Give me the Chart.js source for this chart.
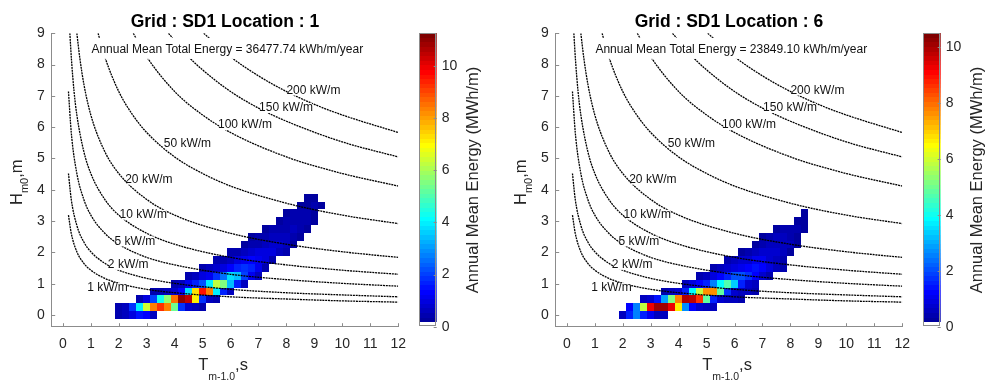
<!DOCTYPE html>
<html lang="en">
<head>
<meta charset="UTF-8">
<title>Annual Mean Energy - SD1 Locations 1 and 6</title>
<script src="https://cdn.jsdelivr.net/npm/chart.js"></script>
<style>
  body { margin: 0; background: #fff; overflow: hidden; }
  #wrap { position: relative; width: 988px; height: 380px; }
  canvas { position: absolute; top: 0; }
</style>
</head>
<body>
<div id="wrap">
  <canvas id="main1" width="415" height="380" style="left:0;width:415px;height:380px"></canvas>
  <canvas id="bar1" width="69" height="380" style="left:415px;width:69px;height:380px"></canvas>
  <canvas id="main6" width="415" height="380" style="left:504px;width:415px;height:380px"></canvas>
  <canvas id="bar6" width="69" height="380" style="left:919px;width:69px;height:380px"></canvas>
</div>

<script>
    var FONT = '"Liberation Sans", Arial, Helvetica, sans-serif';
    var AXIS = '#8c8c8c';
    var INK = '#262626';

    // tick labels
    var xTicks = [0, 1, 2, 3, 4, 5, 6, 7, 8, 9, 10, 11, 12];
    var yTicks = [0, 1, 2, 3, 4, 5, 6, 7, 8, 9];
    var cbTicks = [0, 2, 4, 6, 8, 10];

    // Hm0 bin centres (m), period bins are 0.25 s wide
    var hm0Rows = [0, 0.25, 0.5, 0.75, 1, 1.25, 1.5, 1.75, 2, 2.25, 2.5, 2.75, 3, 3.25, 3.5, 3.75];
    var binWidth = 0.25;

    // Location 1 : first Tm-1,0 bin of each Hm0 row, and energy per bin (MWh/m)
    var loc1Start = [2.0, 2.0, 2.75, 3.25, 4.0, 4.5, 5.0, 5.5, 6.0, 6.5, 6.75, 7.25, 7.75, 8.0, 8.5, 8.75];
    var loc1Energy = [
        [0.4, 0.6, 1.0, 1.5, 1.3, 0.7],
        [0.4, 0.7, 1.8, 4.0, 6.4, 8.3, 9.2, 8.4, 5.3, 1.9, 0.8, 0.6, 0.5],
        [0.5, 0.9, 2.0, 4.3, 5.8, 8.5, 10.9, 10.4, 7.2, 1.8, 0.7, 0.5],
        [0.4, 0.5, 0.6, 0.8, 1.3, 3.8, 7.3, 9.6, 8.4, 4.0, 1.6, 0.6],
        [0.5, 0.7, 1.2, 1.6, 2.2, 4.0, 6.2, 5.6, 3.5, 1.6, 0.6],
        [0.5, 0.6, 0.9, 1.2, 1.8, 2.5, 3.8, 3.5, 2.0, 1.2, 0.6],
        [0.5, 0.6, 0.8, 1.0, 1.3, 1.6, 1.9, 1.7, 1.1, 0.5],
        [0.4, 0.5, 0.7, 0.9, 1.1, 1.3, 1.2, 0.9, 0.5],
        [0.4, 0.5, 0.6, 0.8, 1.0, 1.0, 0.9, 0.7, 0.4],
        [0.3, 0.4, 0.5, 0.7, 0.8, 0.8, 0.6, 0.3],
        [0.3, 0.4, 0.5, 0.6, 0.7, 0.6, 0.5, 0.3],
        [0.3, 0.4, 0.5, 0.5, 0.6, 0.5, 0.3],
        [0.3, 0.4, 0.5, 0.5, 0.4, 0.3],
        [0.3, 0.4, 0.4, 0.4, 0.3],
        [0.3, 0.3, 0.4, 0.25],
        [0.25, 0.3]
    ];
    var loc1Max = 11.25;
    var loc1Total = '36477.74';

    // Location 6
    var loc6Start = [2.0, 2.25, 2.75, 3.5, 4.25, 4.75, 5.25, 5.75, 6.25, 6.75, 7.0, 7.5, 8.25, 8.5];
    var loc6Energy = [
        [0.5, 1.5, 2.6, 1.6, 1.0, 0.6, 0.5],
        [1.2, 2.6, 5.8, 9.2, 10.1, 10.0, 9.2, 6.6, 2.7, 1.3, 0.7, 0.6, 0.5],
        [0.5, 0.7, 1.4, 2.8, 5.2, 7.8, 9.9, 9.7, 8.6, 4.8, 1.6, 0.8, 0.6, 0.5, 0.4],
        [0.4, 0.5, 0.7, 1.5, 3.8, 5.8, 7.6, 7.6, 4.8, 1.8, 0.8, 0.6, 0.5, 0.4],
        [0.5, 0.9, 1.2, 1.6, 2.5, 3.8, 4.6, 3.4, 1.6, 0.8, 0.5],
        [0.4, 0.6, 0.9, 1.2, 1.6, 2.0, 2.0, 1.7, 1.2, 0.8, 0.4],
        [0.4, 0.5, 0.7, 0.9, 1.1, 1.3, 1.4, 1.2, 0.9, 0.6, 0.4],
        [0.4, 0.5, 0.7, 0.8, 1.0, 1.0, 0.8, 0.6, 0.4],
        [0.3, 0.4, 0.6, 0.7, 0.8, 0.7, 0.5, 0.3],
        [0.3, 0.4, 0.5, 0.6, 0.6, 0.5, 0.3],
        [0.3, 0.4, 0.5, 0.5, 0.4, 0.3],
        [0.3, 0.4, 0.4, 0.4, 0.3],
        [0.3, 0.3],
        [0.3]
    ];
    var loc6Max = 10.48;
    var loc6Total = '23849.10';

    // iso wave power lines (Tm-1,0 s, Hm0 m)
    var powerLevels = [1, 2, 5, 10, 20, 50, 100, 150, 200];
    var contour1 = [[0.2,3.19],[0.3,2.61],[0.5,2.02],[0.75,1.65],[1,1.43],[1.5,1.17],[2,1.01],[3,0.82],[4,0.71],[6,0.58],[8,0.51],[10,0.45],[12,0.41]];
    var contour2 = [[0.2,4.52],[0.3,3.69],[0.5,2.86],[0.75,2.33],[1,2.02],[1.5,1.65],[2,1.43],[3,1.17],[4,1.01],[6,0.82],[8,0.71],[10,0.64],[12,0.58]];
    var contour5 = [[0.2,7.14],[0.3,5.83],[0.5,4.52],[0.75,3.69],[1,3.19],[1.5,2.61],[2,2.26],[3,1.84],[4,1.6],[6,1.3],[8,1.13],[10,1.01],[12,0.92]];
    var contour10 = [[0.25,9],[0.3,8.25],[0.4,7.14],[0.5,6.39],[0.75,5.22],[1,4.52],[1.5,3.69],[2,3.19],[3,2.61],[4,2.26],[6,1.84],[8,1.6],[10,1.43],[12,1.3]];
    var contour20 = [[0.5,9],[0.6,8.25],[0.75,7.38],[1,6.39],[1.5,5.22],[2,4.52],[3,3.69],[4,3.19],[6,2.61],[8,2.26],[10,2.02],[12,1.84]];
    var contour50 = [[1.26,9],[1.5,8.25],[2,7.14],[2.5,6.39],[3,5.83],[4,5.05],[5,4.52],[6,4.12],[8,3.57],[10,3.19],[12,2.92]];
    var contour100 = [[2.52,9],[3,8.25],[4,7.14],[5,6.39],[6,5.83],[8,5.05],[10,4.52],[12,4.12]];
    var contour150 = [[3.78,9],[4.5,8.25],[5,7.83],[6,7.14],[7,6.61],[8,6.19],[10,5.53],[12,5.05]];
    var contour200 = [[5.04,9],[6,8.25],[7,7.64],[8,7.14],[9,6.73],[10,6.39],[12,5.83]];
    var contours = [contour1, contour2, contour5, contour10, contour20, contour50, contour100, contour150, contour200];

    // where the contour labels and the note sit (data units)
    var labelAnchors = [[0.87,0.86],[1.61,1.6],[1.85,2.35],[2.03,3.2],[2.23,4.32],[3.61,5.46],[5.55,6.07],[7.02,6.61],[8.0,7.17]];
    var noteAnchor = [1.02, 8.47];

    Chart.defaults.font.family = FONT;

    // jet colormap with a white first entry, 64 levels
    function jet(t) {
        var c = function (v) { return Math.round(255 * Math.min(1, Math.max(0, v))); };
        return 'rgb(' + c(1.5 - Math.abs(4 * t - 3)) + ',' + c(1.5 - Math.abs(4 * t - 2)) + ',' + c(1.5 - Math.abs(4 * t - 1)) + ')';
    }
    function levelColor(k) {
        return k <= 0 ? '#ffffff' : jet((k + 1) / 64);
    }
    function cellColor(v, max) {
        return levelColor(Math.min(63, Math.floor(v / max * 64)));
    }

    function heatmapPlugin(start, energy, max) {
        return {
            id: 'heatmap',
            beforeDatasetsDraw: function (chart) {
                var ctx = chart.ctx, x = chart.scales.x, y = chart.scales.y;
                ctx.save();
                energy.forEach(function (row, r) {
                    var h = hm0Rows[r];
                    row.forEach(function (v, j) {
                        var t = start[r] + j * binWidth;
                        var x0 = Math.round(x.getPixelForValue(t - binWidth / 2));
                        var x1 = Math.round(x.getPixelForValue(t + binWidth / 2));
                        var y0 = Math.round(y.getPixelForValue(h + binWidth / 2));
                        var y1 = Math.round(y.getPixelForValue(h - binWidth / 2));
                        ctx.fillStyle = cellColor(v, max);
                        ctx.fillRect(x0, y0, x1 - x0, y1 - y0);
                    });
                });
                ctx.restore();
            }
        };
    }

    function drawParts(ctx, parts, x, y) {
        var cx = x;
        parts.forEach(function (p) {
            ctx.font = p[1] + 'px ' + FONT;
            ctx.fillText(p[0], cx, y + p[2]);
            cx += ctx.measureText(p[0]).width;
        });
    }

    function overlayPlugin(title, total) {
        return {
            id: 'overlay',
            afterDatasetsDraw: function (chart) {
                var ctx = chart.ctx, x = chart.scales.x, y = chart.scales.y;
                ctx.save();
                ctx.font = '12px ' + FONT;
                ctx.textAlign = 'left';
                ctx.textBaseline = 'middle';
                powerLevels.forEach(function (p, i) {
                    var txt = p + ' kW/m';
                    var px = x.getPixelForValue(labelAnchors[i][0]);
                    var py = y.getPixelForValue(labelAnchors[i][1]);
                    var w = ctx.measureText(txt).width;
                    ctx.fillStyle = '#fff';
                    ctx.fillRect(px + 2, py - 5, w - 3, 10);
                    ctx.fillStyle = '#111';
                    ctx.fillText(txt, px, py);
                });
                var note = 'Annual Mean Total Energy = ' + total + ' kWh/m/year';
                var nx = x.getPixelForValue(noteAnchor[0]);
                var ny = y.getPixelForValue(noteAnchor[1]);
                var nw = ctx.measureText(note).width;
                ctx.fillStyle = '#fff';
                ctx.fillRect(nx - 3, ny - 12, nw + 6, 21);
                ctx.fillStyle = '#111';
                ctx.fillText(note, nx, ny);
                ctx.restore();
            },
            afterDraw: function (chart) {
                var ctx = chart.ctx, x = chart.scales.x, y = chart.scales.y, a = chart.chartArea;
                ctx.save();
                // inward tick marks
                ctx.strokeStyle = AXIS;
                ctx.lineWidth = 1;
                ctx.beginPath();
                xTicks.forEach(function (v) {
                    var px = Math.round(x.getPixelForValue(v)) + 0.5;
                    ctx.moveTo(px, a.bottom);
                    ctx.lineTo(px, a.bottom - 3.5);
                });
                yTicks.forEach(function (v) {
                    var py = Math.round(y.getPixelForValue(v)) + 0.5;
                    ctx.moveTo(a.left, py);
                    ctx.lineTo(a.left + 3.5, py);
                });
                ctx.stroke();

                // title
                ctx.fillStyle = '#000';
                ctx.font = 'bold 17.5px ' + FONT;
                ctx.textAlign = 'center';
                ctx.textBaseline = 'middle';
                ctx.fillText(title, (a.left + a.right) / 2, a.top - 11.6);

                // axis titles with subscripts
                ctx.fillStyle = INK;
                ctx.textAlign = 'left';
                ctx.textBaseline = 'alphabetic';
                drawParts(ctx, [['T', 16.5, 0], ['m-1.0', 10.5, 10], [',s', 16.5, 0]], a.left + 146.5, a.bottom + 43.3);
                ctx.translate(a.left - 29.5, a.top + 171.7);
                ctx.rotate(-Math.PI / 2);
                drawParts(ctx, [['H', 16.5, 0], ['m0', 11, 6], [',m', 16.5, 0]], 0, 0);
                ctx.restore();
            }
        };
    }

    function makeMain(id, title, total, start, energy, max) {
        return new Chart(document.getElementById(id), {
            type: 'scatter',
            data: {
                datasets: contours.map(function (pts) {
                    return {
                        data: pts.map(function (p) { return { x: p[0], y: p[1] }; }),
                        showLine: true,
                        borderColor: '#000',
                        borderWidth: 1.3,
                        borderDash: [2, 0.8],
                        pointRadius: 0,
                        pointHoverRadius: 0,
                        cubicInterpolationMode: 'monotone',
                        fill: false
                    };
                })
            },
            options: {
                responsive: false,
                animation: false,
                events: [],
                layout: { padding: { left: 21.7, right: 12.3, top: 33.3, bottom: 27.3 } },
                plugins: { legend: { display: false }, tooltip: { enabled: false }, title: { display: false } },
                scales: {
                    x: {
                        type: 'linear', min: -0.4, max: 12,
                        afterBuildTicks: function (s) { s.ticks = xTicks.map(function (v) { return { value: v }; }); },
                        afterFit: function (s) { s.height = 26; },
                        grid: { drawOnChartArea: false, drawTicks: false },
                        border: { color: AXIS, width: 1 },
                        ticks: { font: { size: 14 }, color: INK, padding: 9, maxRotation: 0, autoSkip: false }
                    },
                    y: {
                        type: 'linear', min: -0.375, max: 9,
                        afterBuildTicks: function (s) { s.ticks = yTicks.map(function (v) { return { value: v }; }); },
                        afterFit: function (s) { s.width = 30; },
                        grid: { drawOnChartArea: false, drawTicks: false },
                        border: { color: AXIS, width: 1 },
                        ticks: { font: { size: 14 }, color: INK, padding: 7, autoSkip: false }
                    }
                }
            },
            plugins: [heatmapPlugin(start, energy, max), overlayPlugin(title, total)]
        });
    }

    function colorbarPlugin(max) {
        return {
            id: 'colorbar',
            afterDraw: function (chart) {
                var ctx = chart.ctx, y = chart.scales.y, a = chart.chartArea;
                ctx.save();
                for (var k = 0; k < 64; k++) {
                    var y0 = Math.round(y.getPixelForValue((k + 1) * max / 64));
                    var y1 = Math.round(y.getPixelForValue(k * max / 64));
                    ctx.fillStyle = levelColor(k);
                    ctx.fillRect(a.left, y0, a.right - a.left, y1 - y0);
                }
                ctx.strokeStyle = AXIS;
                ctx.lineWidth = 1;
                ctx.strokeRect(Math.round(a.left) + 0.5, Math.round(a.top) + 0.5,
                    Math.round(a.right - a.left) - 1, Math.round(a.bottom - a.top) - 1);
                ctx.beginPath();
                cbTicks.forEach(function (v) {
                    var py = Math.round(y.getPixelForValue(v)) + 0.5;
                    ctx.moveTo(a.right, py);
                    ctx.lineTo(a.right - 3, py);
                });
                ctx.stroke();
                ctx.fillStyle = INK;
                ctx.font = '16.5px ' + FONT;
                ctx.textAlign = 'center';
                ctx.textBaseline = 'middle';
                ctx.translate(58, (a.top + a.bottom) / 2);
                ctx.rotate(-Math.PI / 2);
                ctx.fillText('Annual Mean Energy (MWh/m)', 0, 0);
                ctx.restore();
            }
        };
    }

    function makeBar(id, max) {
        return new Chart(document.getElementById(id), {
            type: 'scatter',
            data: { datasets: [] },
            options: {
                responsive: false,
                animation: false,
                events: [],
                layout: { padding: { left: 4.3, right: 17.3, top: 33.3, bottom: 53.3 } },
                plugins: { legend: { display: false }, tooltip: { enabled: false } },
                scales: {
                    x: { display: false, min: 0, max: 1 },
                    y: {
                        type: 'linear', position: 'right', min: 0, max: max,
                        afterBuildTicks: function (s) { s.ticks = cbTicks.map(function (v) { return { value: v }; }); },
                        afterFit: function (s) { s.width = 30; },
                        grid: { drawOnChartArea: false, drawTicks: false },
                        border: { display: false },
                        ticks: { font: { size: 14 }, color: INK, padding: 5, autoSkip: false }
                    }
                }
            },
            plugins: [colorbarPlugin(max)]
        });
    }

    makeMain('main1', 'Grid : SD1 Location : 1', loc1Total, loc1Start, loc1Energy, loc1Max);
    makeBar('bar1', loc1Max);
    makeMain('main6', 'Grid : SD1 Location : 6', loc6Total, loc6Start, loc6Energy, loc6Max);
    makeBar('bar6', loc6Max);
</script>
</body>
</html>
